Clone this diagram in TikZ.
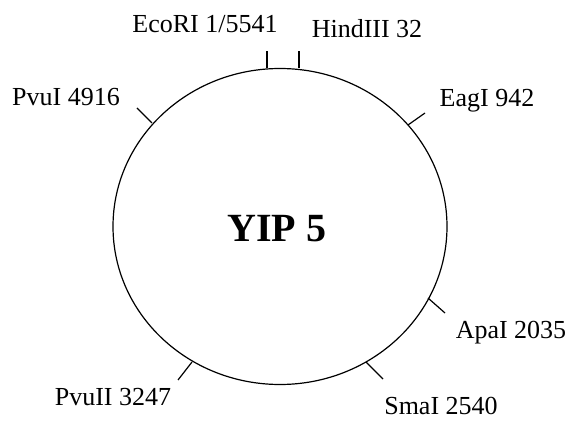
\documentclass[tikz,border=0pt]{standalone}
\usepackage{fontspec}
\setmainfont{Liberation Serif}
\newcommand{\sitefont}{\fontsize{26}{30}\selectfont}
\newcommand{\namefont}{\fontsize{40}{46}\selectfont\bfseries}

\begin{document}
\begin{tikzpicture}[x=1pt,y=-1pt,line width=1.2pt,
                    site/.style={anchor=base,inner sep=0pt,font=\sitefont}]
  \useasboundingbox (0,0) rectangle (568,422);
  % plasmid ring
  \draw (280,226.5) ellipse[x radius=167,y radius=158];
  \node[anchor=base,inner sep=0pt,font=\namefont] (plasmid) at (277,242) {YIP 5};
  % restriction sites: point on ring, end of tick
  \coordinate (ecoIn) at (267,68.5);   \coordinate (ecoOut) at (267,51);
  \coordinate (hindIn) at (299,68.5);  \coordinate (hindOut) at (299,51);
  \coordinate (eagIn) at (408,125);    \coordinate (eagOut) at (425,113);
  \coordinate (apaIn) at (428,298);    \coordinate (apaOut) at (445,313);
  \coordinate (smaIn) at (366,362);    \coordinate (smaOut) at (383,379);
  \coordinate (pvuiiIn) at (192,362);  \coordinate (pvuiiOut) at (178,380);
  \coordinate (pvuiIn) at (152,123);   \coordinate (pvuiOut) at (137,108);
  \draw (ecoIn) -- (ecoOut);
  \draw (hindIn) -- (hindOut);
  \draw (eagIn) -- (eagOut);
  \draw (apaIn) -- (apaOut);
  \draw (smaIn) -- (smaOut);
  \draw (pvuiiIn) -- (pvuiiOut);
  \draw (pvuiIn) -- (pvuiOut);
  % site labels
  \node[site] (eco) at (205,33) {EcoRI 1/5541};
  \node[site] (hind) at (367,38) {HindIII 32};
  \node[site] (eag) at (487,107) {EagI 942};
  \node[site] (apa) at (511,338) {ApaI 2035};
  \node[site] (sma) at (441,414) {SmaI 2540};
  \node[site] (pvuii) at (113,405) {PvuII 3247};
  \node[site] (pvui) at (66,106) {PvuI 4916};
\end{tikzpicture}
\end{document}
